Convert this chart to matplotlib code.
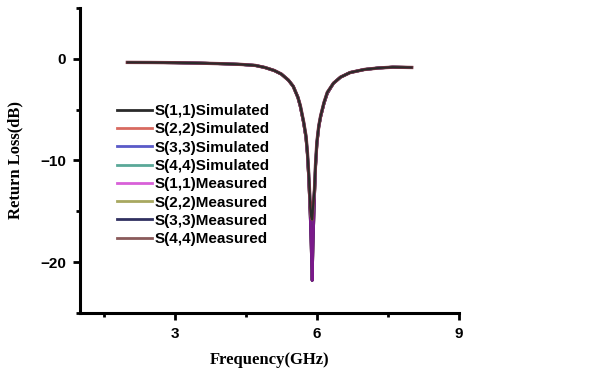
import matplotlib
matplotlib.use("Agg")
import matplotlib.pyplot as plt
from matplotlib.ticker import MultipleLocator
from matplotlib.lines import Line2D

freq = [2.0, 2.5, 3.0, 3.5, 4.0, 4.4, 4.7, 4.9, 5.1, 5.25, 5.4, 5.5, 5.6, 5.65, 5.72, 5.77, 5.8, 5.83,
        5.86, 5.88, 5.9, 5.92, 5.95, 5.97, 6.0, 6.04, 6.08, 6.15, 6.22, 6.35, 6.5, 6.7, 7.0, 7.3, 7.6, 8.0]
sim_db = [-0.35, -0.36, -0.38, -0.42, -0.48, -0.55, -0.65, -0.85, -1.15, -1.5, -2.1, -2.7, -3.8, -4.6, -6.2,
          -7.6, -9.2, -11.5, -14.5, -15.5, -15.8, -14.5, -12.8, -10.5, -8.2, -6.6, -5.6, -4.3, -3.3, -2.4,
          -1.8, -1.35, -1.05, -0.9, -0.82, -0.85]
meas_db = [-0.35, -0.36, -0.38, -0.42, -0.48, -0.55, -0.65, -0.85, -1.15, -1.5, -2.1, -2.7, -3.8, -4.7, -6.3,
           -7.8, -9.4, -12.0, -15.5, -18.5, -21.8, -18.0, -13.5, -10.8, -8.4, -6.7, -5.7, -4.4, -3.4, -2.4,
           -1.8, -1.35, -1.05, -0.9, -0.82, -0.85]

labels = ["S(1,1)Simulated", "S(2,2)Simulated", "S(3,3)Simulated", "S(4,4)Simulated",
          "S(1,1)Measured", "S(2,2)Measured", "S(3,3)Measured", "S(4,4)Measured"]
colors = ["#2a2a2a", "#d86a60", "#5a5ac8", "#5aa898", "#d860d8", "#a8a860", "#303060", "#8a5a5a"]
series = [sim_db, sim_db, sim_db, sim_db, meas_db, meas_db, meas_db, meas_db]

fig = plt.figure(figsize=(5.9, 3.76), dpi=100)
ax = fig.add_axes([0.1356, 0.1676, 0.778 - 0.1356, 0.9787 - 0.1676])

# measured beneath (purple shows at the dip), simulated on top
curve_colors = dict(enumerate(colors))
curve_colors[4] = "#7a1a8a"
curve_colors[1] = "#8a3a4a"
draw_order = [5, 7, 6, 4, 3, 2, 1, 0]
widths = {1: 2.4, 0: 1.5}
for i in draw_order:
    ax.plot(freq, series[i], color=curve_colors[i], lw=widths.get(i, 2.0))

ax.set_xlim(1, 9)
ax.set_ylim(-25, 5)
ax.xaxis.set_minor_locator(MultipleLocator(1.5))
ax.yaxis.set_minor_locator(MultipleLocator(5))
ax.set_yticks([-20, -10, 0])
ax.set_xticks([3, 6, 9])

for s in ["top", "right"]:
    ax.spines[s].set_visible(False)
for s in ["left", "bottom"]:
    ax.spines[s].set_linewidth(2.2)
ax.tick_params(which="major", direction="out", length=5, width=2, labelsize=11, pad=5)
ax.tick_params(which="minor", direction="out", length=3, width=2)
for t in ax.get_xticklabels() + ax.get_yticklabels():
    t.set_fontweight("bold")
    t.set_fontfamily("Liberation Sans")

ax.set_xlabel("Frequency(GHz)", fontfamily="Liberation Serif", fontweight="bold", fontsize=12, labelpad=8)
ax.set_ylabel("Return Loss(dB)", fontfamily="Liberation Serif", fontweight="bold", fontsize=12, labelpad=12)

handles = [Line2D([], [], color=colors[i], lw=2.0) for i in range(8)]
ax.legend(handles, labels, loc="center left", bbox_to_anchor=(0.0976, 0.452), frameon=False,
          prop={"family": "Liberation Sans", "weight": "bold", "size": 11},
          handlelength=2.3, handletextpad=0.15, labelspacing=0.28, borderaxespad=0, borderpad=0)

fig.savefig("out.png", dpi=100)
